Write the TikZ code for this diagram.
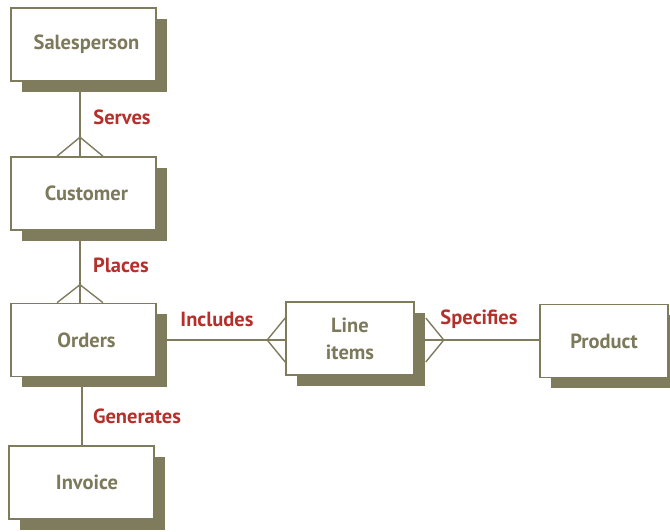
\documentclass[tikz,border=0pt]{standalone}
\usepackage{fontspec}
\setmainfont{PT Sans}
\usetikzlibrary{shadows,backgrounds}
\definecolor{olivetext}{HTML}{7D795B}
\definecolor{olivebox}{HTML}{7F7B5D}
\definecolor{relred}{HTML}{B5302A}
\tikzset{
  entity/.style={draw=olivebox,line width=1.6pt,fill=white,text=olivetext,
    font=\fontsize{20.5}{25}\selectfont\bfseries,align=center,
    minimum width=145pt,minimum height=73pt,inner sep=0pt,
    drop shadow={shadow xshift=10.5pt,shadow yshift=-10.5pt,fill=olivebox,opacity=1}},
  small entity/.style={entity,minimum width=128pt},
  text nudge/.style={execute at begin node={\hspace*{#1}}},
  rel/.style={draw=olivebox,line width=1.4pt},
  rel label/.style={text=relred,font=\fontsize{20.5}{25}\selectfont\bfseries,inner sep=0pt}
}
\begin{document}
\begin{tikzpicture}[x=1pt,y=-1pt]
  \useasboundingbox (0,0) rectangle (670,531);
  % entities
  \node[entity,text nudge=6pt] (sales) at (83.5,44.5) {Salesperson};
  \node[entity,text nudge=6pt] (cust) at (83.5,193.5) {Customer};
  \node[entity,text nudge=6pt] (orders) at (83.5,340) {Orders};
  \node[entity,text nudge=11pt] (inv) at (81.5,482.5) {Invoice};
  \node[small entity] (items) at (350,338.5) {Line\\[2pt]items};
  \node[small entity] (prod) at (604,341) {Product};

  % relationships, kept behind the shadows
  \coordinate (lw) at (orders.east -| items.west);
  \coordinate (le) at (orders.east -| items.east);
  \begin{scope}[on background layer]
    \draw[rel] ([xshift=-3.5pt]sales.south) -- ([xshift=-3.5pt]cust.north);
    \draw[rel] ([xshift=-26.5pt]cust.north) -- ([xshift=-3.5pt,yshift=19pt]cust.north)
          -- ([xshift=19.5pt]cust.north);
    \draw[rel] ([xshift=-3.5pt]cust.south) -- ([xshift=-3.5pt]orders.north);
    \draw[rel] ([xshift=-26.5pt]orders.north) -- ([xshift=-3.5pt,yshift=18pt]orders.north)
          -- ([xshift=19.5pt]orders.north);
    \draw[rel] ([xshift=-1.5pt]orders.south) -- ([xshift=-1.5pt]orders.south |- inv.north);
    \draw[rel] (orders.east) -- (lw);
    \draw[rel] ([yshift=22pt]lw) -- ([xshift=-18pt]lw) -- ([yshift=-22pt]lw);
    \draw[rel] (le) -- (prod.west |- le);
    \draw[rel] ([xshift=11pt,yshift=22pt]le) -- ([xshift=29pt]le)
          -- ([xshift=11pt,yshift=-22pt]le);
  \end{scope}

  % labels
  \node[rel label] (serves) at (122,117) {Serves};
  \node[rel label] (places) at (121,265) {Places};
  \node[rel label] (incl) at (217,319) {Includes};
  \node[rel label] (spec) at (479,319) {Specifies};
  \node[rel label] (gen) at (137,416) {Generates};
\end{tikzpicture}
\end{document}
